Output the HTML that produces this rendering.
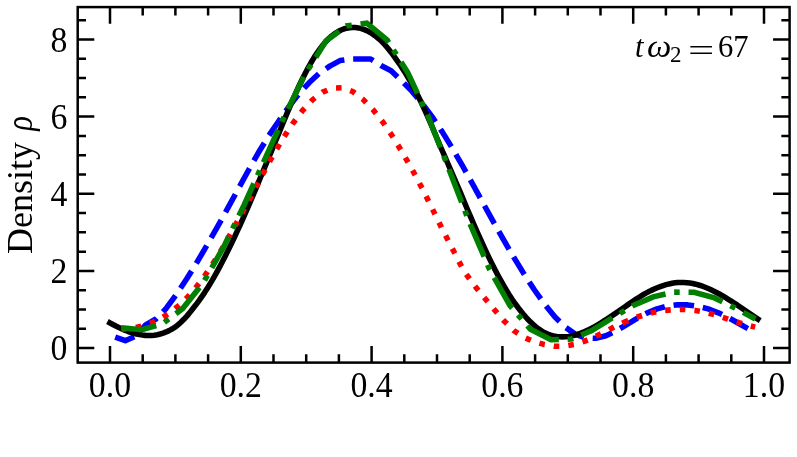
<!DOCTYPE html>
<html><head><meta charset="utf-8"><title>Density plot</title>
<style>
html,body{margin:0;padding:0;background:#fff;}
svg{display:block;font-family:"Liberation Serif",serif;}
.tx{filter:grayscale(1);}
</style></head>
<body>
<svg width="797" height="457" viewBox="0 0 797 457">
<rect width="797" height="457" fill="#fff"/>
<g fill="none" stroke-width="5.556" stroke-linejoin="round">
<path d="M115.20,337.10 L125.30,340.70 L135.45,336.20 L145.68,324.90 L155.91,319.00 L166.13,308.48 L176.36,294.51 L186.59,279.05 L196.82,262.51 L207.04,245.17 L217.27,227.18 L227.50,208.69 L237.72,189.93 L247.95,171.24 L258.18,153.04 L268.40,136.25 L278.63,121.24 L288.86,106.61 L299.09,93.66 L309.31,82.51 L319.54,73.11 L329.77,66.17 L339.99,60.60 L350.22,59.10 L360.45,59.00 L370.68,59.00 L380.90,65.50 L391.13,70.80 L401.36,80.49 L411.58,90.91 L421.81,102.98 L432.04,116.66 L442.26,131.89 L452.49,148.51 L462.72,166.23 L472.94,184.66 L483.17,203.36 L493.40,221.90 L503.63,239.99 L513.85,257.43 L524.08,274.08 L534.31,289.76 L544.53,304.15 L554.76,316.74 L564.99,326.94 L575.22,334.14 L585.44,337.95 L595.67,338.34 L605.90,335.71 L616.12,330.85 L626.35,324.80 L636.58,318.60 L646.80,313.10 L657.03,308.86 L667.26,306.10 L677.49,304.81 L687.71,304.90 L697.94,306.29 L708.17,308.93 L718.39,312.81 L728.62,317.79 L738.85,323.51 L749.07,329.32" stroke="#0000ff" stroke-dasharray="20.56 8.89"/>
<path d="M109.90,322.84 L112.86,324.46 L115.82,326.01 L118.78,327.47 L121.73,328.84 L124.69,330.11 L127.65,331.27 L130.61,332.31 L133.57,333.22 L136.53,333.99 L139.49,334.61 L142.45,335.07 L145.40,335.37 L148.36,335.49 L151.32,335.42 L154.28,335.15 L157.24,334.68 L160.20,334.00 L163.16,333.10 L166.12,331.97 L169.07,330.62 L172.03,329.02 L174.99,327.19 L177.95,324.88 L180.91,322.26 L183.87,319.34 L186.83,316.12 L189.78,312.59 L192.74,308.78 L195.70,305.05 L198.66,301.13 L201.62,296.97 L204.58,292.59 L207.54,287.98 L210.50,283.16 L213.45,278.12 L216.41,272.87 L219.37,267.43 L222.33,261.78 L225.29,255.94 L228.25,249.94 L231.21,243.93 L234.17,237.76 L237.12,231.44 L240.08,224.98 L243.04,218.38 L246.00,211.65 L248.96,204.80 L251.92,197.85 L254.88,190.85 L257.83,183.84 L260.79,176.76 L263.75,169.64 L266.71,162.49 L269.67,155.33 L272.63,148.17 L275.59,141.04 L278.55,133.95 L281.50,126.76 L284.46,119.49 L287.42,112.35 L290.38,105.35 L293.34,98.53 L296.30,91.90 L299.26,85.48 L302.22,79.31 L305.17,73.40 L308.13,67.78 L311.09,62.50 L314.05,57.61 L317.01,53.05 L319.97,48.84 L322.93,44.99 L325.88,41.51 L328.84,38.50 L331.80,35.87 L334.76,33.63 L337.72,31.77 L340.68,30.25 L343.64,29.01 L346.60,28.14 L349.55,27.64 L352.51,27.51 L355.47,27.55 L358.43,27.90 L361.39,28.59 L364.35,29.61 L367.31,30.90 L370.27,32.49 L373.22,34.39 L376.18,36.57 L379.14,39.04 L382.10,41.79 L385.06,44.96 L388.02,48.45 L390.98,52.19 L393.94,56.18 L396.89,60.28 L399.85,64.52 L402.81,68.96 L405.77,73.62 L408.73,78.71 L411.69,83.99 L414.65,89.47 L417.60,95.14 L420.56,101.00 L423.52,107.37 L426.48,113.93 L429.44,120.65 L432.40,127.52 L435.36,134.52 L438.32,141.65 L441.27,148.50 L444.23,155.22 L447.19,161.99 L450.15,168.81 L453.11,175.67 L456.07,182.54 L459.03,189.42 L461.99,196.43 L464.94,203.47 L467.90,210.47 L470.86,217.41 L473.82,224.27 L476.78,231.03 L479.74,237.68 L482.70,244.21 L485.65,250.60 L488.61,256.83 L491.57,262.89 L494.53,268.76 L497.49,274.44 L500.45,279.90 L503.41,285.15 L506.37,290.17 L509.32,294.94 L512.28,299.47 L515.24,303.74 L518.20,307.75 L521.16,311.55 L524.12,315.17 L527.08,318.51 L530.04,321.59 L532.99,324.38 L535.95,326.90 L538.91,329.14 L541.87,331.11 L544.83,332.81 L547.79,334.11 L550.75,335.14 L553.70,335.92 L556.66,336.46 L559.62,336.77 L562.58,336.86 L565.54,336.74 L568.50,336.42 L571.46,335.91 L574.42,335.21 L577.37,334.35 L580.33,333.34 L583.29,332.18 L586.25,330.88 L589.21,329.47 L592.17,327.95 L595.13,326.32 L598.09,324.61 L601.04,322.82 L604.00,320.97 L606.96,319.06 L609.92,317.11 L612.88,315.12 L615.84,313.10 L618.80,311.08 L621.75,309.01 L624.71,306.93 L627.67,304.86 L630.63,302.83 L633.59,300.83 L636.55,298.87 L639.51,296.98 L642.47,295.15 L645.42,293.40 L648.38,291.84 L651.34,290.37 L654.30,289.00 L657.26,287.74 L660.22,286.59 L663.18,285.57 L666.14,284.67 L669.09,283.91 L672.05,283.31 L675.01,282.86 L677.97,282.57 L680.93,282.44 L683.89,282.47 L686.85,282.66 L689.80,283.01 L692.76,283.52 L695.72,284.18 L698.68,284.98 L701.64,285.92 L704.60,287.00 L707.56,288.20 L710.52,289.51 L713.47,290.93 L716.43,292.45 L719.39,294.05 L722.35,295.73 L725.31,297.47 L728.27,299.27 L731.23,301.11 L734.19,302.99 L737.14,304.92 L740.10,306.98 L743.06,309.04 L746.02,311.10 L748.98,313.14 L751.94,315.16 L754.90,317.14 L757.86,319.04" stroke="#000" stroke-linecap="square"/>
<path d="M121.30,329.13 L131.36,328.34 L141.42,326.28 L151.49,322.90 L161.55,318.07 L171.61,311.58 L181.67,303.18 L191.73,292.67 L201.80,279.99 L211.86,265.29 L221.92,248.90 L231.98,231.29 L242.04,212.99 L252.10,194.38 L262.17,175.16 L272.23,156.69 L282.29,139.49 L292.35,124.07 L302.41,110.71 L312.48,99.88 L322.54,92.16 L332.60,88.05 L342.66,87.78 L352.72,91.49 L362.79,99.13 L372.85,109.43 L382.91,122.17 L392.97,136.98 L403.03,153.47 L413.10,171.31 L423.16,190.18 L433.22,210.63 L443.28,231.11 L453.34,250.59 L463.40,270.19 L473.47,284.28 L483.53,296.82 L493.59,308.73 L503.65,320.44 L513.71,330.55 L523.78,337.23 L533.84,341.63 L543.90,344.44 L553.96,346.18 L564.02,346.20 L574.09,344.52 L584.15,341.34 L594.21,337.02 L604.27,332.04 L614.33,326.94 L623.20,322.73 M623.20,322.73 L624.40,322.17 L634.46,318.02 L644.52,314.67 L654.58,312.14 L664.64,310.43 L674.70,309.53 L684.77,309.50 L694.83,310.38 L704.89,312.18 L714.95,314.81 L725.01,318.03 L735.08,321.45 L745.14,324.64 L755.20,327.18" stroke="#ff0000" stroke-dasharray="5.56 9.086" stroke-dashoffset="0"/>
<path d="M121.40,327.73 L141.85,329.76 L162.31,323.88 L182.76,308.53 L203.21,282.68 L223.67,246.93 L244.12,204.89 L264.57,159.85 L285.02,114.85 L305.48,73.71 L325.93,41.00 L346.38,25.90 L366.84,23.20 L387.29,40.20 L407.74,72.67 L428.20,116.51 L448.65,168.36 L469.10,221.75 L489.55,269.30 L510.01,305.60 L530.46,329.35 L550.91,339.68 L571.37,339.08 L591.82,330.57 L612.27,317.92 L632.73,305.81 L653.18,296.91 L673.63,292.11 L694.08,292.27 L714.54,297.92 L734.99,307.93 L755.44,318.98" stroke="#007f00" stroke-linejoin="miter" stroke-dasharray="35.56 8.827 5.56 8.827"/>
</g>
<g stroke="#000" stroke-width="2.5" fill="none">
<path d="M110.00,362.65 v-16.6 M110.00,7.1 v16.6"/>
<path d="M142.70,362.65 v-8.3 M142.70,7.1 v8.3"/>
<path d="M175.40,362.65 v-8.3 M175.40,7.1 v8.3"/>
<path d="M208.10,362.65 v-8.3 M208.10,7.1 v8.3"/>
<path d="M240.80,362.65 v-16.6 M240.80,7.1 v16.6"/>
<path d="M273.50,362.65 v-8.3 M273.50,7.1 v8.3"/>
<path d="M306.20,362.65 v-8.3 M306.20,7.1 v8.3"/>
<path d="M338.90,362.65 v-8.3 M338.90,7.1 v8.3"/>
<path d="M371.60,362.65 v-16.6 M371.60,7.1 v16.6"/>
<path d="M404.30,362.65 v-8.3 M404.30,7.1 v8.3"/>
<path d="M437.00,362.65 v-8.3 M437.00,7.1 v8.3"/>
<path d="M469.70,362.65 v-8.3 M469.70,7.1 v8.3"/>
<path d="M502.40,362.65 v-16.6 M502.40,7.1 v16.6"/>
<path d="M535.10,362.65 v-8.3 M535.10,7.1 v8.3"/>
<path d="M567.80,362.65 v-8.3 M567.80,7.1 v8.3"/>
<path d="M600.50,362.65 v-8.3 M600.50,7.1 v8.3"/>
<path d="M633.20,362.65 v-16.6 M633.20,7.1 v16.6"/>
<path d="M665.90,362.65 v-8.3 M665.90,7.1 v8.3"/>
<path d="M698.60,362.65 v-8.3 M698.60,7.1 v8.3"/>
<path d="M731.30,362.65 v-8.3 M731.30,7.1 v8.3"/>
<path d="M764.00,362.65 v-16.6 M764.00,7.1 v16.6"/>
<path d="M77.7,348.10 h16.6 M789.65,348.10 h-16.6"/>
<path d="M77.7,328.81 h8.3 M789.65,328.81 h-8.3"/>
<path d="M77.7,309.52 h8.3 M789.65,309.52 h-8.3"/>
<path d="M77.7,290.23 h8.3 M789.65,290.23 h-8.3"/>
<path d="M77.7,270.94 h16.6 M789.65,270.94 h-16.6"/>
<path d="M77.7,251.65 h8.3 M789.65,251.65 h-8.3"/>
<path d="M77.7,232.36 h8.3 M789.65,232.36 h-8.3"/>
<path d="M77.7,213.07 h8.3 M789.65,213.07 h-8.3"/>
<path d="M77.7,193.78 h16.6 M789.65,193.78 h-16.6"/>
<path d="M77.7,174.49 h8.3 M789.65,174.49 h-8.3"/>
<path d="M77.7,155.20 h8.3 M789.65,155.20 h-8.3"/>
<path d="M77.7,135.91 h8.3 M789.65,135.91 h-8.3"/>
<path d="M77.7,116.62 h16.6 M789.65,116.62 h-16.6"/>
<path d="M77.7,97.33 h8.3 M789.65,97.33 h-8.3"/>
<path d="M77.7,78.04 h8.3 M789.65,78.04 h-8.3"/>
<path d="M77.7,58.75 h8.3 M789.65,58.75 h-8.3"/>
<path d="M77.7,39.46 h16.6 M789.65,39.46 h-16.6"/>
<path d="M77.7,20.17 h8.3 M789.65,20.17 h-8.3"/>
</g>
<rect x="77.7" y="7.1" width="711.9" height="355.5" fill="none" stroke="#000" stroke-width="2.5"/>
<g class="tx" font-size="35.6px" fill="#000"><text transform="translate(110.0,396.8) scale(0.95,1)" text-anchor="middle">0.0</text><text transform="translate(240.8,396.8) scale(0.95,1)" text-anchor="middle">0.2</text><text transform="translate(371.6,396.8) scale(0.95,1)" text-anchor="middle">0.4</text><text transform="translate(502.4,396.8) scale(0.95,1)" text-anchor="middle">0.6</text><text transform="translate(633.2,396.8) scale(0.95,1)" text-anchor="middle">0.8</text><text transform="translate(764.0,396.8) scale(0.95,1)" text-anchor="middle">1.0</text><text transform="translate(67.3,360.1) scale(0.95,1)" text-anchor="end">0</text><text transform="translate(67.3,282.9) scale(0.95,1)" text-anchor="end">2</text><text transform="translate(67.3,205.8) scale(0.95,1)" text-anchor="end">4</text><text transform="translate(67.3,128.6) scale(0.95,1)" text-anchor="end">6</text><text transform="translate(67.3,51.5) scale(0.95,1)" text-anchor="end">8</text></g>
<text class="tx" transform="translate(31.6,253.9) rotate(-90)" font-size="35.4px" fill="#000" textLength="111.8" lengthAdjust="spacingAndGlyphs">Density</text>
<text class="tx" transform="translate(31.6,130.8) rotate(-90) scale(0.86,1.1)" font-size="35.4px" font-style="italic" fill="#000">ρ</text>
<g class="tx" font-size="30.6px" fill="#000">
<text x="635" y="56.7" font-style="italic">t</text>
<text transform="translate(647,56.7) scale(1.13,1)" font-style="italic">ω</text>
<text x="670" y="61.8" font-size="23px">2</text>
<text transform="translate(688.1,61.0) scale(1.52,1)">=</text>
<text x="718" y="56.7">67</text>
</g>
</svg>
</body></html>
